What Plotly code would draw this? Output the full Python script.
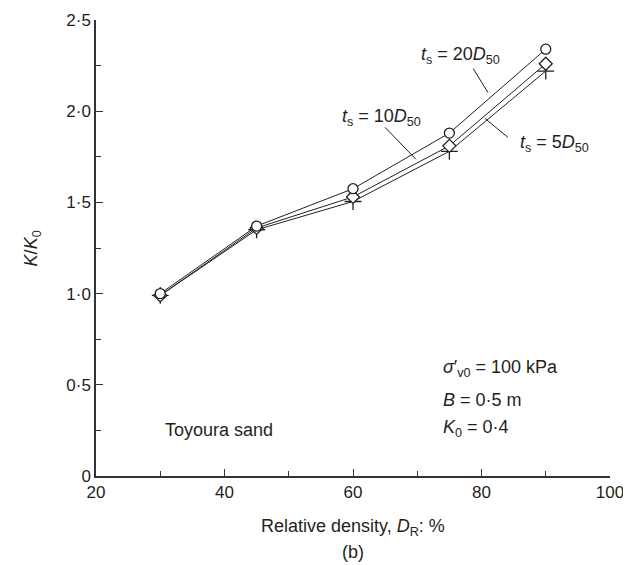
import plotly.graph_objects as go

# relative density (%) and K/K0 for the three wall thicknesses
dr = [30, 45, 60, 75, 90]
k_20d50 = [1.0, 1.37, 1.575, 1.88, 2.34]
k_10d50 = [0.99, 1.36, 1.53, 1.81, 2.26]
k_5d50 = [0.99, 1.35, 1.505, 1.78, 2.22]

x_ticks = [20, 40, 60, 80, 100]
y_ticks = [0, 0.5, 1.0, 1.5, 2.0, 2.5]
y_ticktext = ['0', '0·5', '1·0', '1·5', '2·0', '2·5']

ink = '#231f20'
font = 'Liberation Sans, Arial, sans-serif'

fig = go.Figure()

series = [
    (k_5d50, 'cross-thin', 12, 't = 5D50'),
    (k_10d50, 'diamond', 10, 't = 10D50'),
    (k_20d50, 'circle', 10, 't = 20D50'),
]
for vals, sym, sz, name in series:
    fig.add_trace(go.Scatter(
        x=dr, y=vals, mode='lines+markers', name=name,
        line=dict(color=ink, width=1),
        marker=dict(symbol=sym, size=sz, color='white',
                    line=dict(color=ink, width=1.3)),
    ))
# cross markers need a coloured stroke
fig.data[0].marker.color = ink

# leader lines from curve labels (x0, y0, x1, y1)
leaders = [
    (78.7, 2.234, 81.0, 2.103),
    (65.0, 1.911, 69.8, 1.736),
    (84.1, 1.857, 80.5, 1.961),
]
for x0, y0, x1, y1 in leaders:
    fig.add_shape(type='line', x0=x0, y0=y0, x1=x1, y1=y1,
                  line=dict(color=ink, width=1))

labels = [
    (76.7, 2.305, '<i>t</i><sub>s</sub> = 20<i>D</i><sub>50</sub>', 'center'),
    (64.4, 1.966, '<i>t</i><sub>s</sub> = 10<i>D</i><sub>50</sub>', 'center'),
    (91.4, 1.824, '<i>t</i><sub>s</sub> = 5<i>D</i><sub>50</sub>', 'center'),
    (73.7, 0.59, "<i>σ</i>′<sub>v0</sub> = 100 kPa", 'left'),
    (73.7, 0.415, '<i>B</i> = 0·5 m', 'left'),
    (73.7, 0.26, '<i>K</i><sub>0</sub> = 0·4', 'left'),
    (30.4, 0.25, 'Toyoura sand', 'left'),
]
for x, y, txt, anchor in labels:
    fig.add_annotation(x=x, y=y, text=txt, showarrow=False, xanchor=anchor,
                       yanchor='middle', font=dict(size=18, color=ink, family=font))

fig.add_annotation(x=0.5, y=-0.142, xref='paper', yref='paper', showarrow=False,
                   text='Relative density, <i>D</i><sub>R</sub>: %',
                   font=dict(size=18, color=ink, family=font))
fig.add_annotation(x=0.5, y=-0.194, xref='paper', yref='paper', showarrow=False,
                   text='(b)', font=dict(size=18, color=ink, family=font))
fig.add_annotation(x=-0.15, y=0.5, xref='paper', yref='paper', showarrow=False,
                   text='<i>K</i>/<i>K</i><sub>0</sub>', textangle=-90,
                   font=dict(size=18, color=ink, family=font))

fig.update_xaxes(
    range=[20, 100], tickvals=x_ticks, showline=True, linecolor='#333',
    linewidth=1.5, ticks='inside', ticklen=7, tickwidth=1.3, tickcolor='#333',
    minor=dict(ticks='inside', ticklen=5, tickvals=[30, 50, 70, 90], tickcolor='#333'),
    showgrid=False, zeroline=False, automargin=False,
    tickfont=dict(size=17, color=ink, family=font),
)
fig.update_yaxes(
    range=[0, 2.5], tickvals=y_ticks, ticktext=y_ticktext, showline=True,
    linecolor='#333', linewidth=1.5, ticks='inside', ticklen=7, tickwidth=1.3,
    tickcolor='#333',
    minor=dict(ticks='inside', ticklen=5, tickvals=[0.25, 0.75, 1.25, 1.75, 2.25],
               tickcolor='#333'),
    showgrid=False, zeroline=False, automargin=False,
    tickfont=dict(size=17, color=ink, family=font),
)
fig.update_layout(
    width=631, height=565,
    margin=dict(l=88, r=29, t=12, b=97),
    plot_bgcolor='white', paper_bgcolor='white',
    showlegend=False,
)
fig.write_html('out.html')
